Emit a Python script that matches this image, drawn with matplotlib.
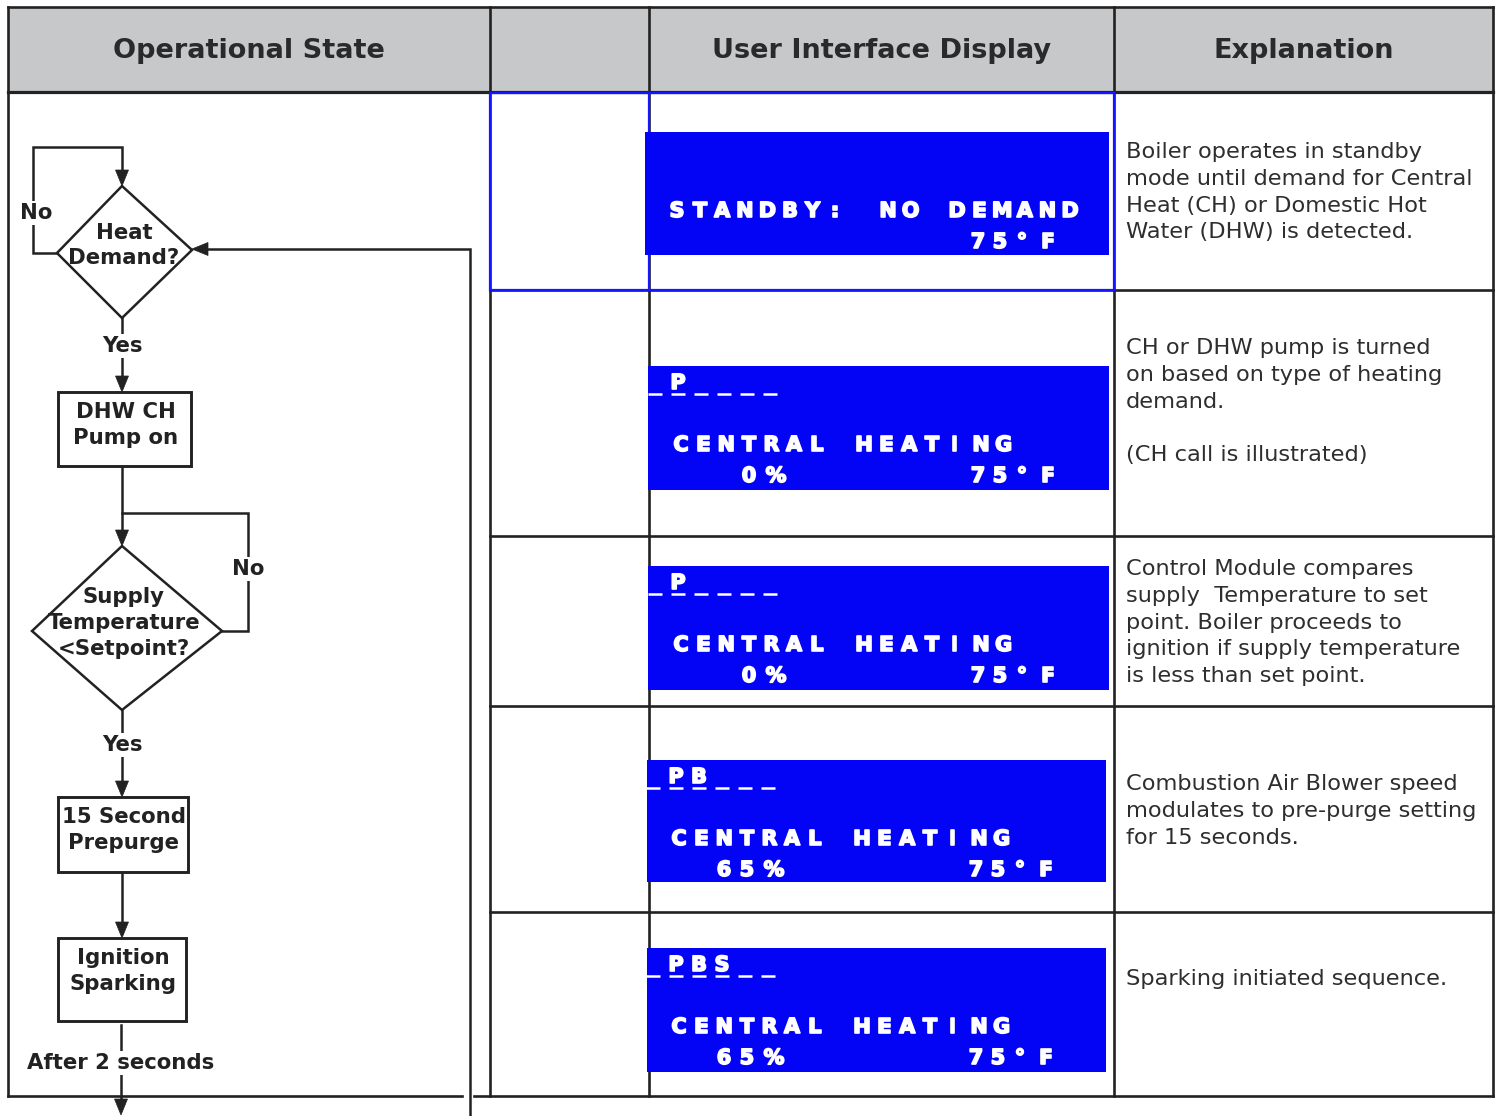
import matplotlib.pyplot as plt
from matplotlib.patches import Rectangle, Polygon
import matplotlib.patheffects as pe

# ---- table content ----
header_labels = ["Operational State", "", "User Interface Display", "Explanation"]

status_lines = ["", "_P____", "_P____", "_PB___", "_PBS__"]
mode_lines = ["STANDBY:  NO DEMAND", "CENTRAL HEATI NG", "CENTRAL HEATI NG",
              "CENTRAL HEATI NG", "CENTRAL HEATI NG"]
percent_lines = ["", "0%", "0%", "65%", "65%"]
temp_lines = ["75° F", "75° F", "75° F", "75° F", "75° F"]

explanations = [
    ["Boiler operates in standby", "mode until demand for Central",
     "Heat (CH) or Domestic Hot", "Water (DHW) is detected."],
    ["CH or DHW pump is turned", "on based on type of heating", "demand.", "",
     "(CH call is illustrated)"],
    ["Control Module compares", "supply  Temperature to set", "point. Boiler proceeds to",
     "ignition if supply temperature", "is less than set point."],
    ["Combustion Air Blower speed", "modulates to pre-purge setting", "for 15 seconds."],
    ["Sparking initiated sequence."],
]

diamond_labels = [["Heat", "Demand?"], ["Supply", "Temperature", "<Setpoint?"]]
box_labels = [["DHW CH", "Pump on"], ["15 Second", "Prepurge"], ["Ignition", "Sparking"]]
branch_labels = ["No", "Yes", "No", "Yes", "After 2 seconds"]

# ---- layout (pixels) ----
W, H = 1501, 1116
col_x = [8, 490, 649, 1114, 1493]
row_y = [7, 92, 290, 536, 706, 912, 1096]
lcd_boxes = [(645, 132, 1109, 255), (648, 366, 1109, 490), (648, 566, 1109, 690),
             (647, 760, 1106, 882), (647, 948, 1106, 1072)]
lcd_dx = [0, 0, 0, -2, -2]
mode_word_x = [[677, 888, 957], [681, 864, 981], [681, 864, 981], [681, 864, 981], [681, 864, 981]]
expl_first_y = [152, 348, 569, 784, 979]

INK = "#222222"
LCD_BLUE = "#0303f6"
LINE_BLUE = "#1515ff"
GRAY = "#c7c8ca"

fig = plt.figure(figsize=(W / 100, H / 100), dpi=100)
ax = fig.add_axes([0, 0, 1, 1])
ax.set_xlim(0, W)
ax.set_ylim(H, 0)
ax.axis("off")

# header band
ax.add_patch(Rectangle((col_x[0], row_y[0]), col_x[-1] - col_x[0], row_y[1] - row_y[0],
                       facecolor=GRAY, edgecolor="none"))
hx = [(col_x[i] + col_x[i + 1]) / 2 for i in range(4)]
for x, lab in zip(hx, header_labels):
    ax.text(x, 51, lab, ha="center", va="center", fontsize=19.5, fontweight="bold",
            color="#2a2a2a", family="DejaVu Sans")

tlw = 1.9
# outer frame and grid
ax.plot([col_x[0], col_x[-1]], [row_y[0], row_y[0]], color=INK, lw=tlw)
ax.plot([col_x[0], col_x[-1]], [row_y[1], row_y[1]], color=INK, lw=tlw + 0.4)
ax.plot([col_x[0], col_x[0]], [row_y[0], row_y[-1]], color=INK, lw=tlw)
ax.plot([col_x[-1], col_x[-1]], [row_y[0], row_y[-1]], color=INK, lw=tlw)
for x in col_x[1:-1]:
    ax.plot([x, x], [row_y[0], row_y[-1]], color=INK, lw=tlw)
for y in row_y[2:-1]:
    ax.plot([col_x[1], col_x[-1]], [y, y], color=INK, lw=tlw)
ax.plot([col_x[0], 462], [row_y[-1], row_y[-1]], color=INK, lw=tlw)
ax.plot([474, col_x[-1]], [row_y[-1], row_y[-1]], color=INK, lw=tlw)
# highlighted first row
ax.add_patch(Rectangle((col_x[1], row_y[1] + 1), col_x[3] - col_x[1], row_y[2] - row_y[1] - 1,
                       facecolor="none", edgecolor=LINE_BLUE, lw=1.6, zorder=3))
ax.plot([col_x[2], col_x[2]], [row_y[1] + 1, row_y[2]], color=LINE_BLUE, lw=1.6, zorder=3)

# ---- LCD displays ----
lcd_font = dict(family="DejaVu Sans", fontweight="bold", fontsize=15, color="white",
                ha="center", va="center", zorder=6,
                path_effects=[pe.withStroke(linewidth=1.2, foreground="white")])
pitch = 22.6


def lcd_word(x, y, word, step=pitch):
    for i, ch in enumerate(word):
        ax.text(x + i * step, y, ch, **lcd_font)


for k, (x0, y0, x1, y1) in enumerate(lcd_boxes):
    dx = lcd_dx[k]
    ax.add_patch(Rectangle((x0, y0), x1 - x0, y1 - y0, facecolor=LCD_BLUE,
                           edgecolor="none", zorder=5))
    # status line
    if status_lines[k]:
        sy = y0 + 17
        for i, ch in enumerate(status_lines[k]):
            cx = 655 + dx + 23 * i
            ax.plot([cx - 7, cx + 7], [sy + 11, sy + 11], color="white", lw=1.8,
                    solid_capstyle="butt", zorder=6)
            if ch != "_":
                ax.text(cx, sy, ch, **lcd_font)
    # mode line
    my = y0 + 79
    for wx, word in zip(mode_word_x[k], mode_lines[k].split()):
        lcd_word(wx + dx, my, word)
    # percent line
    py = y0 + 110
    pct = percent_lines[k]
    if pct:
        ax.text(776 + dx, py, pct[-1], **lcd_font)
        for j, ch in enumerate(reversed(pct[:-1])):
            ax.text(749 + dx - 23 * j, py, ch, **lcd_font)
    # temperature
    tw = temp_lines[k].split()
    lcd_word(978 + dx, py, tw[0], step=22)
    lcd_word(1048 + dx, py, tw[1])

# ---- explanations ----
for k, lines in enumerate(explanations):
    for i, line in enumerate(lines):
        ax.text(1126, expl_first_y[k] + 26.8 * i, line, ha="left", va="center",
                fontsize=16.2, color="#2e2e2e", family="DejaVu Sans")

# ---- flowchart ----
flw = 1.8
ffont = dict(family="DejaVu Sans", fontweight="bold", fontsize=15.3, color=INK,
             ha="center", va="center", zorder=4)


def poly(pts):
    xs, ys = zip(*pts)
    ax.plot(xs, ys, color=INK, lw=flw, solid_joinstyle="miter", zorder=2)


def head(x, y, d, L=16, hw=6.5):
    if d == "down":
        p = [(x - hw, y - L), (x + hw, y - L), (x, y)]
    else:
        p = [(x + L, y - hw), (x + L, y + hw), (x, y)]
    ax.add_patch(Polygon(p, closed=True, facecolor=INK, edgecolor=INK, lw=0.5, zorder=3))


diamonds = [[(122, 186), (192, 250), (122, 318), (57, 253)],
            [(122, 546), (222, 631), (122, 710), (32, 631)]]
diamond_text = [[(124, 233), (124, 258)], [(124, 597), (124, 623), (124, 649)]]
for verts, labs, pos in zip(diamonds, diamond_labels, diamond_text):
    ax.add_patch(Polygon(verts, closed=True, facecolor="white", edgecolor=INK, lw=flw, zorder=2.5))
    for (tx, ty), lab in zip(pos, labs):
        ax.text(tx, ty, lab, **ffont)

boxes = [(58, 392, 191, 466), (58, 797, 188, 872), (58, 938, 186, 1021)]
for (bx0, by0, bx1, by1), labs in zip(boxes, box_labels):
    ax.add_patch(Rectangle((bx0, by0), bx1 - bx0, by1 - by0, facecolor="white",
                           edgecolor=INK, lw=flw + 0.3, zorder=2.5))
    for i, lab in enumerate(labs):
        ax.text((bx0 + bx1) / 2 + 1, by0 + 20 + 26 * i, lab, **ffont)

# connectors
poly([(57, 253), (33, 253), (33, 147), (122, 147), (122, 180)])
head(122, 186, "down")
poly([(122, 318), (122, 386)])
head(122, 392, "down")
poly([(122, 466), (122, 540)])
head(122, 546, "down")
poly([(222, 631), (248, 631), (248, 513), (122, 513)])
poly([(122, 710), (122, 791)])
head(122, 797, "down")
poly([(122, 872), (122, 932)])
head(122, 938, "down")
poly([(121, 1025), (121, 1108)])
head(121, 1115, "down")
poly([(470, H), (470, 249), (200, 249)])
head(192, 249, "left")

branch_pos = [(36, 213), (122, 346), (248, 569), (122, 745), (121, 1063)]
bb = dict(facecolor="white", edgecolor="none", pad=1.5)
for (lx, ly), lab in zip(branch_pos, branch_labels):
    ax.text(lx, ly, lab, bbox=bb, **ffont)

fig.savefig("out.png", dpi=100)
